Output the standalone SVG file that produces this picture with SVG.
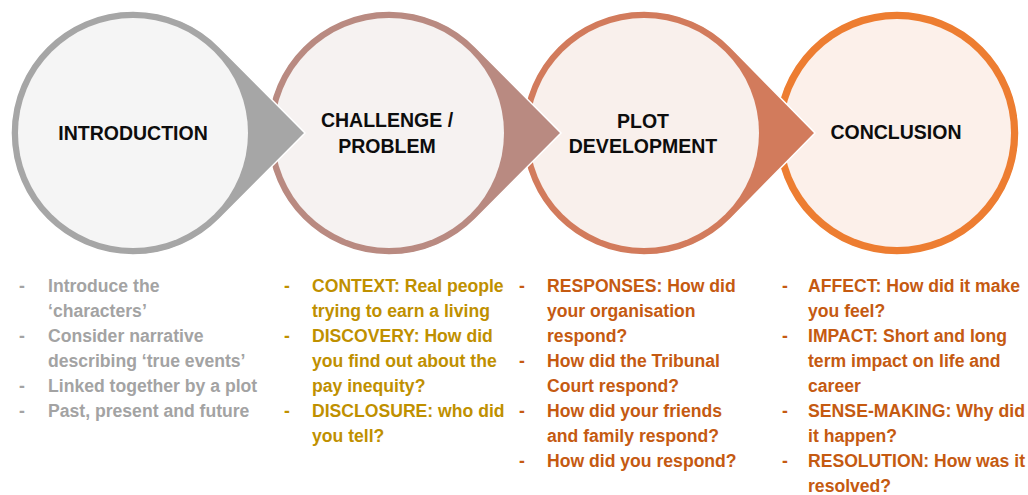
<svg xmlns="http://www.w3.org/2000/svg" width="1028" height="495" viewBox="0 0 1028 495">
<style>
.title{font-family:"Liberation Sans",Arial,sans-serif;font-weight:bold;font-size:19.5px;fill:#0d0d0d;text-anchor:middle}
.b{font-family:"Liberation Sans",Arial,sans-serif;font-weight:bold;font-size:17.6px}
.g{fill:#a3a3a3}.y{fill:#bf9000}.o{fill:#c55a11}
.edge{stroke:#ffffff;stroke-width:1.5}
</style>
<rect width="1028" height="495" fill="#ffffff"/>
<g id="node-conclusion">
<circle cx="897" cy="133" r="122" fill="#ed7d31" class="edge"/>
<circle cx="897" cy="133" r="114" fill="#fcf0ea"/>
<text class="title" x="896" y="139">CONCLUSION</text>
</g>
<g id="node-plot">
<path d="M730.5 47 A122 122 0 1 0 730.5 219 L815 133 Z" fill="#d27b5c" class="edge"/>
<circle cx="644" cy="133" r="115" fill="#f9f0ec"/>
<text class="title" x="643" y="128">PLOT</text>
<text class="title" x="643" y="153">DEVELOPMENT</text>
</g>
<g id="node-challenge">
<path d="M475.5 47 A122 122 0 1 0 475.5 219 L561 133 Z" fill="#b98a81" class="edge"/>
<circle cx="389" cy="133" r="115" fill="#f6f2f1"/>
<text class="title" x="387" y="127">CHALLENGE /</text>
<text class="title" x="387" y="153">PROBLEM</text>
</g>
<g id="node-introduction">
<path d="M219.5 47 A122 122 0 1 0 219.5 219 L305 133 Z" fill="#a6a6a6" class="edge"/>
<circle cx="133" cy="133" r="115" fill="#f5f5f5"/>
<text class="title" x="133" y="140">INTRODUCTION</text>
</g>
<g id="connectors"></g>
<g id="list-introduction" class="b g">
<text x="19" y="292">-</text><text x="48" y="292">Introduce the</text>
<text x="48" y="317">‘characters’</text>
<text x="19" y="342">-</text><text x="48" y="342">Consider narrative</text>
<text x="48" y="367">describing ‘true events’</text>
<text x="19" y="392">-</text><text x="48" y="392">Linked together by a plot</text>
<text x="19" y="417">-</text><text x="48" y="417">Past, present and future</text>
</g>
<g id="list-challenge" class="b y">
<text x="284" y="292">-</text><text x="312" y="292">CONTEXT: Real people</text>
<text x="312" y="317">trying to earn a living</text>
<text x="284" y="342">-</text><text x="312" y="342">DISCOVERY: How did</text>
<text x="312" y="367">you find out about the</text>
<text x="312" y="392">pay inequity?</text>
<text x="284" y="417">-</text><text x="312" y="417">DISCLOSURE: who did</text>
<text x="312" y="442">you tell?</text>
</g>
<g id="list-plot" class="b o">
<text x="519" y="292">-</text><text x="547" y="292">RESPONSES: How did</text>
<text x="547" y="317">your organisation</text>
<text x="547" y="342">respond?</text>
<text x="519" y="367">-</text><text x="547" y="367">How did the Tribunal</text>
<text x="547" y="392">Court respond?</text>
<text x="519" y="417">-</text><text x="547" y="417">How did your friends</text>
<text x="547" y="442">and family respond?</text>
<text x="519" y="467">-</text><text x="547" y="467">How did you respond?</text>
</g>
<g id="list-conclusion" class="b o">
<text x="782" y="292">-</text><text x="808" y="292">AFFECT: How did it make</text>
<text x="808" y="317">you feel?</text>
<text x="782" y="342">-</text><text x="808" y="342">IMPACT: Short and long</text>
<text x="808" y="367">term impact on life and</text>
<text x="808" y="392">career</text>
<text x="782" y="417">-</text><text x="808" y="417" textLength="217" lengthAdjust="spacingAndGlyphs">SENSE-MAKING: Why did</text>
<text x="808" y="442">it happen?</text>
<text x="782" y="467">-</text><text x="808" y="467" textLength="217" lengthAdjust="spacingAndGlyphs">RESOLUTION: How was it</text>
<text x="808" y="492">resolved?</text>
</g>
</svg>
